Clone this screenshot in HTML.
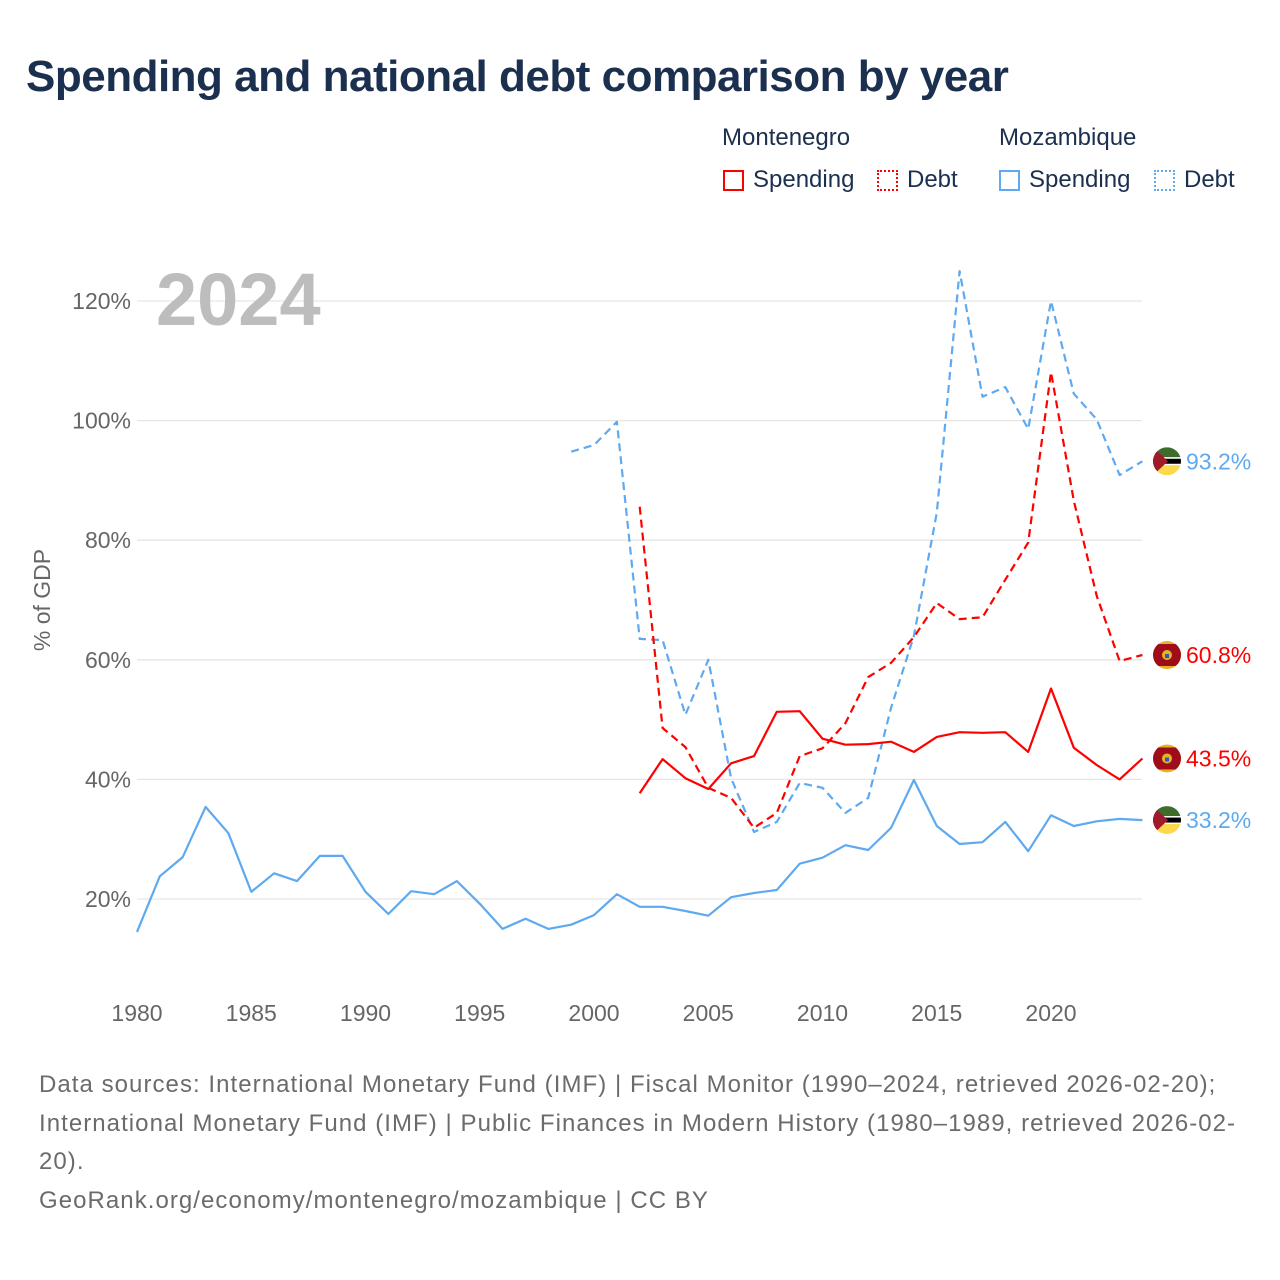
<!DOCTYPE html>
<html><head><meta charset="utf-8">
<style>
body{margin:0;background:#fff;width:1280px;height:1280px;overflow:hidden;font-family:"Liberation Sans",sans-serif}
#title{position:absolute;left:26px;top:52px;font-size:44px;font-weight:bold;color:#1b2f4e;margin:0;letter-spacing:-0.5px}
.lg{position:absolute;font-size:24px;color:#1b2f4e}
.sw{position:absolute;width:21px;height:21px;box-sizing:border-box}
#foot{position:absolute;left:39px;top:1066px;width:1206px;font-size:24px;line-height:38.7px;color:#6b6b6b;letter-spacing:1.05px}
</style></head><body>
<h1 id="title">Spending and national debt comparison by year</h1>
<div class="lg" style="left:722px;top:124px">Montenegro</div>
<div class="lg" style="left:999px;top:124px">Mozambique</div>
<div class="sw" style="left:723px;top:170px;border:2px solid #f00"></div>
<div class="lg" style="left:753px;top:166px">Spending</div>
<div class="sw" style="left:877px;top:170px;border:2px dotted #f00"></div>
<div class="lg" style="left:907px;top:166px">Debt</div>
<div class="sw" style="left:999px;top:170px;border:2px solid #5ea9ef"></div>
<div class="lg" style="left:1029px;top:166px">Spending</div>
<div class="sw" style="left:1154px;top:170px;border:2px dotted #5ea9ef"></div>
<div class="lg" style="left:1184px;top:166px">Debt</div>

<svg id="chart" width="1280" height="1280" style="position:absolute;left:0;top:0"></svg>

<div id="foot">Data sources: International Monetary Fund (IMF) | Fiscal Monitor (1990–2024, retrieved 2026-02-20); International Monetary Fund (IMF) | Public Finances in Modern History (1980–1989, retrieved 2026-02-20).<br>GeoRank.org/economy/montenegro/mozambique | CC BY</div>

<script>
const mozSpendYears0 = 1980;
const mozSpending = [14.5,23.8,27.0,35.4,31.0,21.2,24.3,23.0,27.2,27.2,21.2,17.5,21.3,20.8,23.0,19.2,15.0,16.7,15.0,15.7,17.3,20.8,18.7,18.7,18.0,17.2,20.3,21.0,21.5,25.9,26.9,29.0,28.2,31.9,39.9,32.2,29.2,29.5,32.9,28.0,34.0,32.2,33.0,33.4,33.2];
const mozDebtYear0 = 1999;
const mozDebt = [94.8,95.9,99.8,63.5,63.3,50.8,60.0,40.2,31.2,32.9,39.4,38.6,34.4,36.9,52.0,64.0,84.6,125.0,104.0,105.6,98.6,120.0,104.5,100.2,90.9,93.2];
const mneYear0 = 2002;
const mneSpending = [37.7,43.4,40.2,38.4,42.7,43.9,51.3,51.4,46.8,45.8,45.9,46.3,44.6,47.1,47.9,47.8,47.9,44.6,55.2,45.3,42.4,40.0,43.5];
const mneDebt = [85.6,48.6,45.4,38.6,36.9,31.9,34.4,43.9,45.2,49.4,57.1,59.5,63.8,69.5,66.8,67.1,73.4,79.6,108.1,86.6,70.7,59.8,60.8];
const yTicks = [20,40,60,80,100,120];
const xTicks = [1980,1985,1990,1995,2000,2005,2010,2015,2020];

const NS="http://www.w3.org/2000/svg";
const svg=document.getElementById('chart');
const X=y=>137+(y-1980)*22.85;
const Y=v=>899-(v-20)*5.98;
function mk(t,a,p){const e=document.createElementNS(NS,t);for(const k in a)e.setAttribute(k,a[k]);(p||svg).appendChild(e);return e;}

yTicks.forEach(t=>{
  const g=mk('line',{x1:137,x2:1142,y1:Y(t),y2:Y(t),stroke:'#e6e6e6','stroke-width':1.3});
  
  
  const tx=mk('text',{x:131,y:Y(t)+8,'text-anchor':'end','font-size':23,fill:'#666','font-family':'Liberation Sans, sans-serif'});
  tx.textContent=t+'%';
  
  
});
xTicks.forEach(t=>{
  const tx=mk('text',{x:X(t),y:1021,'text-anchor':'middle','font-size':23,fill:'#666','font-family':'Liberation Sans, sans-serif'});
  tx.textContent=t;
  
  
});
const yt=mk('text',{x:0,y:0,transform:'translate(50,600) rotate(-90)','text-anchor':'middle','font-size':23,fill:'#666','font-family':'Liberation Sans, sans-serif'});
yt.textContent='% of GDP';


const yr=mk('text',{x:156,y:325,'font-size':74,'font-weight':'bold',fill:'#bdbdbd','font-family':'Liberation Sans, sans-serif'});
yr.textContent='2024';



function line(arr,y0,color,dash,name){
  const d=arr.map((v,i)=>(i?'L':'M')+X(y0+i).toFixed(1)+' '+Y(v).toFixed(1)).join(' ');
  const p=mk('path',{d:d,fill:'none',stroke:color,'stroke-width':2.2,'stroke-linejoin':'round'});
  if(dash)p.setAttribute('stroke-dasharray','8 5');
  
  
}
line(mozSpending,mozSpendYears0,'#5ea9ef',false,'mozambique-spending-line');
line(mozDebt,mozDebtYear0,'#5ea9ef',true,'mozambique-debt-line');
line(mneSpending,mneYear0,'#f00',false,'montenegro-spending-line');
line(mneDebt,mneYear0,'#f00',true,'montenegro-debt-line');

function flag(cy,moz,name){
  const g=mk('g',{});
  
  
  const cx=1167,r=14;
  const cid='c'+Math.round(cy);
  const cp=mk('clipPath',{id:cid},g);mk('circle',{cx:cx,cy:cy,r:r},cp);
  const f=mk('g',{'clip-path':'url(#'+cid+')'},g);
  if(moz){
    mk('rect',{x:cx-r,y:cy-r,width:2*r,height:10,fill:'#3f6b2b'},f);
    mk('rect',{x:cx-r,y:cy-4,width:2*r,height:8,fill:'#fff'},f);
    mk('rect',{x:cx-r,y:cy-2.5,width:2*r,height:5,fill:'#000'},f);
    mk('rect',{x:cx-r,y:cy+4,width:2*r,height:10,fill:'#fcd84a'},f);
    mk('path',{d:`M${cx-r} ${cy-r} L${cx+1} ${cy} L${cx-r} ${cy+r}Z`,fill:'#a01a2a'},f);
  }else{
    mk('rect',{x:cx-r,y:cy-r,width:2*r,height:2*r,fill:'#e6b422'},f);
    mk('rect',{x:cx-r,y:cy-r+3,width:2*r,height:2*r-6,fill:'#a00d1a'},f);
    mk('circle',{cx:cx,cy:cy,r:5,fill:'#e6b422'},f);
    mk('rect',{x:cx-2,y:cy-1,width:4,height:4,fill:'#2b5bb5'},f);
  }
}
function label(v,color,name,moz){
  flag(Y(v),moz,name+'-flag');
  const t=mk('text',{x:1186,y:Y(v)+8,'font-size':23,fill:color,'font-family':'Liberation Sans, sans-serif'});
  t.textContent=v.toFixed(1)+'%';
  
  
}
label(mozDebt[mozDebt.length-1],'#5ea9ef','mozambique-debt',true);
label(mneDebt[mneDebt.length-1],'#f00','montenegro-debt',false);
label(mneSpending[mneSpending.length-1],'#f00','montenegro-spending',false);
label(mozSpending[mozSpending.length-1],'#5ea9ef','mozambique-spending',true);
</script>
</body></html>
